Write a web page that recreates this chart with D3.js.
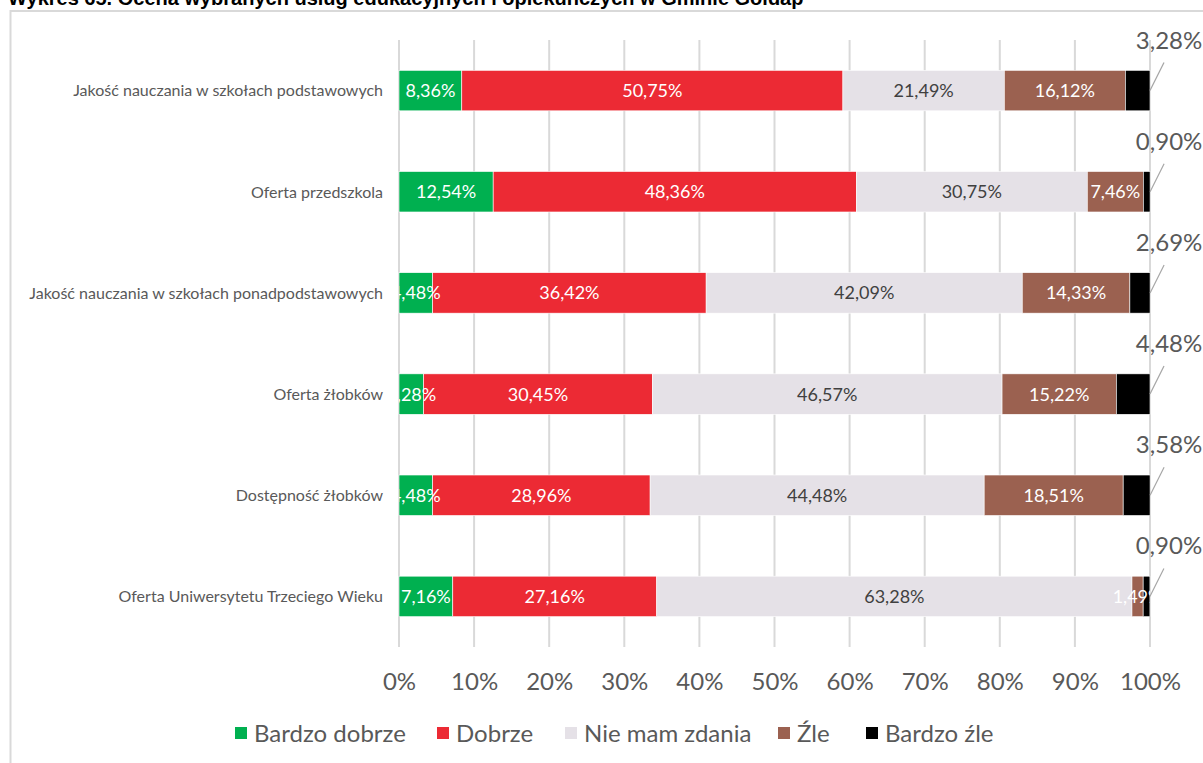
<!DOCTYPE html>
<html>
<head>
<meta charset="utf-8">
<script src="https://cdn.jsdelivr.net/npm/d3@7"></script>
<style>
  html, body { margin: 0; padding: 0; background: #fff; }
  svg { display: block; }
</style>
</head>
<body>
<svg id="chart" width="1203" height="763"></svg>
<script>
// Survey: assessment of selected educational and care services (shares in %)
const categories = [
  "Jakość nauczania w szkołach podstawowych",
  "Oferta przedszkola",
  "Jakość nauczania w szkołach ponadpodstawowych",
  "Oferta żłobków",
  "Dostępność żłobków",
  "Oferta Uniwersytetu Trzeciego Wieku"
];
const seriesNames = ["Bardzo dobrze", "Dobrze", "Nie mam zdania", "Źle", "Bardzo źle"];
const bardzoDobrze = [8.36, 12.54, 4.48, 3.28, 4.48, 7.16];
const dobrze       = [50.75, 48.36, 36.42, 30.45, 28.96, 27.16];
const nieMamZdania = [21.49, 30.75, 42.09, 46.57, 44.48, 63.28];
const zle          = [16.12, 7.46, 14.33, 15.22, 18.51, 1.49];
const bardzoZle    = [3.28, 0.90, 2.69, 4.48, 3.58, 0.90];
const tickValues = [0, 10, 20, 30, 40, 50, 60, 70, 80, 90, 100];
const titleText = "Wykres 65. Ocena wybranych usług edukacyjnych i opiekuńczych w Gminie Gołdap";

const seriesValues = [bardzoDobrze, dobrze, nieMamZdania, zle, bardzoZle];
const colors = ["#00b050", "#ec2a34", "#e5e1e7", "#9b6150", "#000000"];
const labelColors = ["#ffffff", "#ffffff", "#404040", "#ffffff", "#404040"];

const fmt = v => v.toFixed(2).replace(".", ",") + "%";

const svg = d3.select("#chart");
const font = "Lato, 'Open Sans', sans-serif";

// title (runs past the top edge of the page)
svg.append("text")
  .attr("x", 8).attr("y", 5)
  .attr("font-family", "'Liberation Sans', Arial, sans-serif")
  .attr("font-weight", "bold")
  .attr("font-size", 20)
  .attr("fill", "#000")
  .text(titleText);

// chart frame
svg.append("rect")
  .attr("x", 10.5).attr("y", 11)
  .attr("width", 1300).attr("height", 800)
  .attr("fill", "none")
  .attr("stroke", "#d9d9d9")
  .attr("stroke-width", 2);

const x = d3.scaleLinear().domain([0, 100]).range([399, 1150]);
const y = d3.scaleBand().domain(categories).range([40, 647])
  .paddingInner(0.6).paddingOuter(0.3);

// stacked layout
const rows = categories.map((c, i) => {
  const obj = { cat: c };
  seriesNames.forEach((s, k) => obj[s] = seriesValues[k][i]);
  return obj;
});
const stack = d3.stack().keys(seriesNames)(rows);

// vertical gridlines
svg.append("g").selectAll("line")
  .data(tickValues)
  .join("line")
  .attr("x1", d => x(d)).attr("x2", d => x(d))
  .attr("y1", 40).attr("y2", 647)
  .attr("stroke", "#d9d9d9")
  .attr("stroke-width", 2);

// bars
const layers = svg.append("g").selectAll("g")
  .data(stack)
  .join("g")
  .attr("fill", (d, k) => colors[k]);

layers.selectAll("rect")
  .data(d => d)
  .join("rect")
  .attr("x", d => x(d[0]))
  .attr("y", d => y(d.data.cat))
  .attr("width", d => x(d[1]) - x(d[0]))
  .attr("height", y.bandwidth())
  .attr("stroke", "#ffffff")
  .attr("stroke-width", 0.6);

// inner labels are clipped to the plot area
svg.append("defs").append("clipPath").attr("id", "plotClip")
  .append("rect")
  .attr("x", x(0)).attr("y", 30)
  .attr("width", x(100) - x(0)).attr("height", 630);

const inner = svg.append("g").attr("clip-path", "url(#plotClip)");
stack.slice(0, 4).forEach((layer, k) => {
  inner.append("g").selectAll("text")
    .data(layer)
    .join("text")
    .attr("x", d => (x(d[0]) + x(d[1])) / 2)
    .attr("y", d => y(d.data.cat) + y.bandwidth() / 2)
    .attr("dy", "0.36em")
    .attr("text-anchor", "middle")
    .attr("font-family", font)
    .attr("font-size", 18)
    .attr("fill", labelColors[k])
    .text(d => fmt(d[1] - d[0]));
});

// outside labels with leader lines for the last series
const last = stack[4];
const outer = svg.append("g");
outer.selectAll("line")
  .data(last)
  .join("line")
  .attr("x1", d => x(d[1]))
  .attr("y1", d => y(d.data.cat) + y.bandwidth() / 2)
  .attr("x2", d => x(d[1]) + 14)
  .attr("y2", d => y(d.data.cat) + y.bandwidth() / 2 - 28)
  .attr("stroke", "#a6a6a6")
  .attr("stroke-width", 1.2);
outer.selectAll("text")
  .data(last)
  .join("text")
  .attr("x", d => x(d[1]) + 19)
  .attr("y", d => y(d.data.cat) + y.bandwidth() / 2 - 42)
  .attr("text-anchor", "middle")
  .attr("font-family", font)
  .attr("font-size", 24)
  .attr("fill", "#595959")
  .text(d => fmt(d[1] - d[0]));

// category axis labels
svg.append("g").selectAll("text")
  .data(categories)
  .join("text")
  .attr("x", 383)
  .attr("y", d => y(d) + y.bandwidth() / 2)
  .attr("dy", "0.36em")
  .attr("text-anchor", "end")
  .attr("font-family", font)
  .attr("font-size", 16)
  .attr("fill", "#595959")
  .text(d => d);

// value axis
const xAxis = d3.axisBottom(x).tickValues(tickValues).tickSize(0).tickPadding(0)
  .tickFormat(d => d + "%");
const ax = svg.append("g").attr("transform", "translate(0,690)").call(xAxis);
ax.select(".domain").remove();
ax.selectAll("text")
  .attr("dy", 0)
  .attr("font-family", font)
  .attr("font-size", 24)
  .attr("fill", "#595959");

// legend
const legendX = [235, 437, 565, 778, 866];
const legend = svg.append("g").selectAll("g")
  .data(seriesNames)
  .join("g")
  .attr("transform", (d, k) => `translate(${legendX[k]},727)`);
legend.append("rect")
  .attr("width", 12).attr("height", 12)
  .attr("fill", (d, k) => colors[k]);
legend.append("text")
  .attr("x", 19).attr("y", 6)
  .attr("dy", "0.36em")
  .attr("font-family", font)
  .attr("font-size", 24)
  .attr("fill", "#595959")
  .text(d => d);
</script>
</body>
</html>
